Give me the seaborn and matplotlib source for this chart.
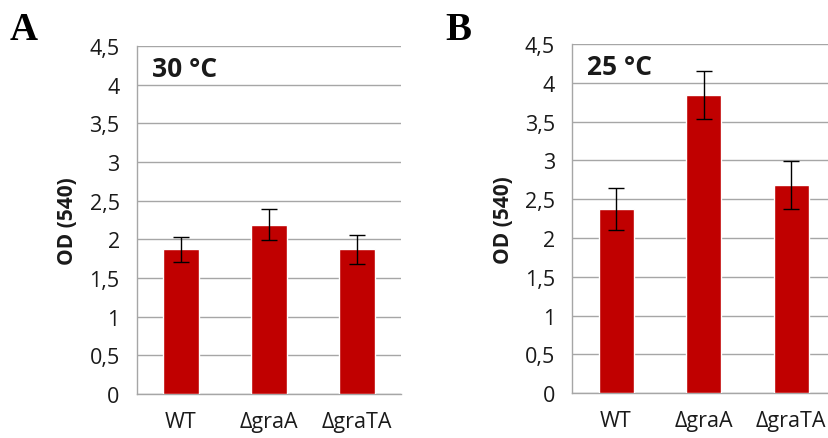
import matplotlib
matplotlib.use("Agg")
import matplotlib.pyplot as plt
import seaborn as sns
import pandas as pd
import numpy as np
from matplotlib.ticker import FixedLocator

strains = ["WT", "\u0394graA", "\u0394graTA"]
od_30 = [1.87, 2.19, 1.87]
err_30 = [0.16, 0.20, 0.19]
od_25 = [2.37, 3.84, 2.68]
err_25 = [0.27, 0.31, 0.31]
y_ticks = [0, 0.5, 1, 1.5, 2, 2.5, 3, 3.5, 4, 4.5]
y_tick_labels = ["0", "0,5", "1", "1,5", "2", "2,5", "3", "3,5", "4", "4,5"]
panels = ["A", "B"]
temps = ["30 \u00b0C", "25 \u00b0C"]

sns.set_theme(style="white")
plt.rcParams["font.family"] = ["Open Sans", "DejaVu Sans"]

fig = plt.figure(figsize=(8.29, 4.39), dpi=100)
ax_a = fig.add_axes([137/829, 1-395/439, 264/829, 348/439])
ax_b = fig.add_axes([572.3/829, 1-394.3/439, 262.5/829, 349.3/439])

bar_color = "#C00000"
grid_color = "#a6a6a6"
text_color = "#1a1a1a"

for ax, vals, errs, letter, temp in zip([ax_a, ax_b], [od_30, od_25], [err_30, err_25], panels, temps):
    df = pd.DataFrame({"strain": strains, "od": vals})
    sns.barplot(data=df, x="strain", y="od", color=bar_color, saturation=1,
                width=0.4, errorbar=None, ax=ax, zorder=3)
    xs = ax.get_xticks()
    ax.errorbar(xs, vals, yerr=errs, fmt="none", ecolor="black", elinewidth=1,
                capsize=5.5, capthick=1, zorder=4)
    ax.set_ylim(0, 4.5)
    ax.set_xlim(-0.5, 2.5)
    ax.set_yticks(y_ticks)
    ax.set_yticklabels(y_tick_labels)
    ax.yaxis.grid(True, color=grid_color, linewidth=1)
    ax.set_axisbelow(True)
    for s in ["top", "right"]:
        ax.spines[s].set_visible(False)
    for s in ["left", "bottom"]:
        ax.spines[s].set_color(grid_color)
        ax.spines[s].set_linewidth(1)
    ax.tick_params(axis="y", length=5.5, width=1, color=grid_color, pad=7,
                   labelsize=15.5, labelcolor=text_color)
    ax.tick_params(axis="x", which="major", length=0, pad=12, labelsize=15.5, labelcolor=text_color)
    ax.xaxis.set_minor_locator(FixedLocator([-0.5, 0.5, 1.5, 2.5]))
    ax.tick_params(axis="x", which="minor", length=5, width=1, color=grid_color, direction="out")
    ax.set_xlabel("")
    ax.set_ylabel("OD (540)", fontsize=15, fontweight="bold", color=text_color, labelpad=8)
    ax.text(0.055, 0.975, temp, transform=ax.transAxes, fontsize=19, fontweight="bold",
            color=text_color, va="top", ha="left")

fig.text(10/829, 1-40/439, "A", fontsize=28, fontweight="bold", family=["Liberation Serif"], color="black")
fig.text(445/829, 1-40/439, "B", fontsize=28, fontweight="bold", family=["Liberation Serif"], color="black")

fig.savefig("out.png", dpi=100)
